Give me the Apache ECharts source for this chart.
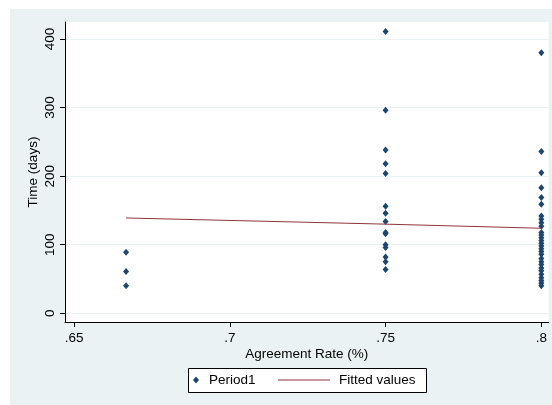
<!DOCTYPE html>
<html>
<head>
<meta charset="utf-8">
<script src="https://cdn.jsdelivr.net/npm/echarts@6/dist/echarts.min.js"></script>
<style>
html,body{margin:0;padding:0;background:#fff;}
#wrap{position:relative;width:552px;height:405px;}
#bg{position:absolute;left:10px;top:9px;width:542px;height:396px;background:#EAF2F3;}
#chart{position:absolute;left:0;top:0;width:552px;height:405px;}
</style>
</head>
<body>
<div id="wrap"><div id="bg"></div><div id="chart"></div></div>
<script>
// Agreement rate categories (x) and observed times (days)
var xGroups = [0.6667, 0.75, 0.8];
var period1_x0667 = [89, 61, 40];
var period1_x075 = [411, 296, 238, 218, 204, 156, 146, 134, 118, 116, 100, 96, 82, 75, 64];
var period1_x080 = [380, 236, 205, 183, 169, 159, 142, 137, 132, 127, 118, 114, 110, 106, 102, 98, 94, 90, 86, 80, 75, 71, 66, 62, 57, 52, 48, 44, 40];
var fittedX = [0.6667, 0.75, 0.8];
var fittedY = [139, 130, 124];
var xTickValues = [0.65, 0.7, 0.75, 0.8];
var xTickLabels = ['.65', '.7', '.75', '.8'];
var yTickValues = [0, 100, 200, 300, 400];

var scatterData = [];
[period1_x0667, period1_x075, period1_x080].forEach(function (arr, i) {
  arr.forEach(function (v) { scatterData.push([xGroups[i], v]); });
});
var lineData = fittedX.map(function (x, i) { return [x, fittedY[i]]; });

var chart = echarts.init(document.getElementById('chart'));
var font = 'Liberation Sans, Arial, sans-serif';
chart.setOption({
  backgroundColor: 'transparent',
  animation: false,
  textStyle: { fontFamily: font },
  grid: { left: 65, top: 22, right: 3.5, bottom: 83, show: true, backgroundColor: '#fff', borderWidth: 0 },
  xAxis: {
    type: 'value', min: 0.6471, max: 0.8023,
    name: 'Agreement Rate (%)', nameLocation: 'middle', nameGap: 25, nameMoveOverlap: false,
    nameTextStyle: { fontSize: 13.5, color: '#000', fontFamily: font },
    axisLine: { show: true, onZero: false, lineStyle: { color: '#000', width: 1 } },
    axisTick: { show: true, length: 5, customValues: xTickValues, lineStyle: { color: '#000' } },
    axisLabel: { customValues: xTickValues, margin: 9, fontSize: 13.5, color: '#000', fontFamily: font,
      formatter: function (v) { var i = xTickValues.indexOf(v); return i >= 0 ? xTickLabels[i] : ''; } },
    splitLine: { show: false }
  },
  yAxis: {
    type: 'value', min: -12.7, max: 424.8,
    name: 'Time (days)', nameLocation: 'middle', nameGap: 25, nameRotate: 90, nameMoveOverlap: false,
    nameTextStyle: { fontSize: 13.5, color: '#000', fontFamily: font },
    axisLine: { show: true, onZero: false, lineStyle: { color: '#000', width: 1 } },
    axisTick: { show: true, length: 5, customValues: yTickValues, lineStyle: { color: '#000' } },
    axisLabel: { customValues: yTickValues, rotate: 90, margin: 8, fontSize: 13.5, color: '#000', fontFamily: font },
    splitLine: { show: true, lineStyle: { color: '#EAF2F3', width: 1 } }
  },
  graphic: [{
    type: 'rect', z: 1,
    shape: { x: 188.5, y: 368.5, width: 238, height: 24 },
    style: { fill: '#fff', stroke: '#000', lineWidth: 1 }
  }],
  legend: [{
    data: [{ name: 'Period1', icon: 'diamond' }], left: 193, top: 373, padding: 0, z: 5,
    itemWidth: 6, itemHeight: 7,
    textStyle: { fontSize: 13.5, color: '#000', fontFamily: font, padding: [0, 0, 0, 5] }
  }, {
    data: [{ name: 'Fitted values', icon: 'rect' }], left: 278, top: 373, padding: 0, z: 5,
    itemWidth: 52, itemHeight: 1,
    textStyle: { fontSize: 13.5, color: '#000', fontFamily: font, padding: [0, 0, 0, 4] }
  }],
  series: [{
    name: 'Period1', type: 'scatter', data: scatterData,
    symbol: 'diamond', symbolSize: [6, 7],
    itemStyle: { color: '#1A476F', opacity: 1 }
  }, {
    name: 'Fitted values', type: 'line', data: lineData,
    symbol: 'none', showSymbol: false,
    lineStyle: { color: '#90353B', width: 1 }, itemStyle: { color: '#90353B' }
  }]
});
</script>
</body>
</html>
